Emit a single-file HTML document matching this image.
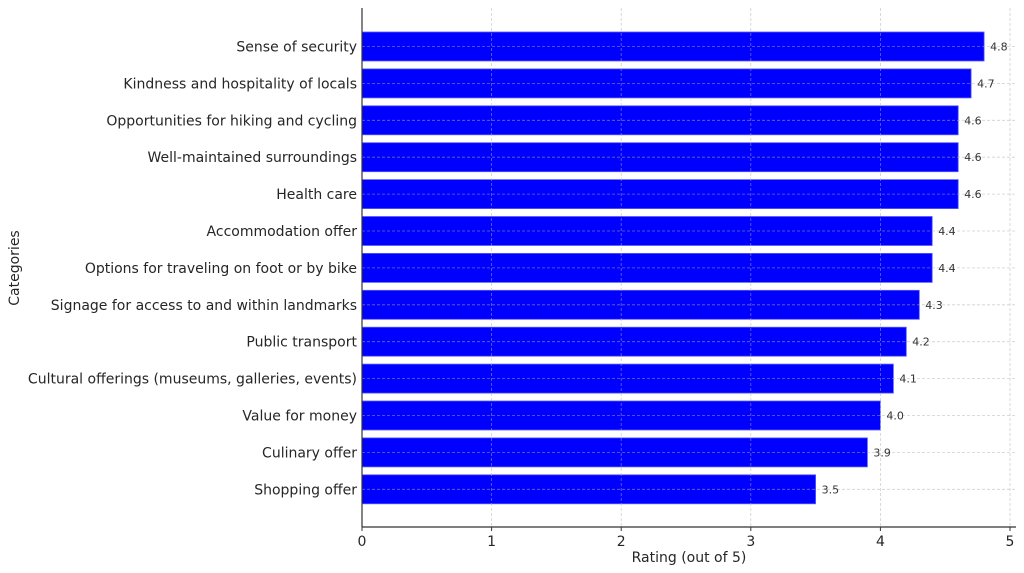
<!DOCTYPE html>
<html><head><style>body{margin:0;background:#fff}svg{display:block}</style></head><body>
<svg width="1024" height="573" xmlns="http://www.w3.org/2000/svg" font-family="DejaVu Sans, Liberation Sans, sans-serif">
<g fill="#0000ff" stroke="#5a5aff" stroke-width="0.8">
<rect x="362" y="32" width="622.1" height="29"/>
<rect x="362" y="68.9" width="609.1" height="29"/>
<rect x="362" y="105.8" width="596.2" height="29"/>
<rect x="362" y="142.7" width="596.2" height="29"/>
<rect x="362" y="179.6" width="596.2" height="29"/>
<rect x="362" y="216.5" width="570.2" height="29"/>
<rect x="362" y="253.4" width="570.2" height="29"/>
<rect x="362" y="290.3" width="557.3" height="29"/>
<rect x="362" y="327.2" width="544.3" height="29"/>
<rect x="362" y="364.1" width="531.4" height="29"/>
<rect x="362" y="401" width="518.4" height="29"/>
<rect x="362" y="437.9" width="505.4" height="29"/>
<rect x="362" y="474.8" width="453.6" height="29"/>
</g>
<g stroke="#b0b0b0" stroke-opacity="0.6" stroke-dasharray="3,2" stroke-width="0.8">
<line x1="362" x2="1016" y1="46.5" y2="46.5"/><line x1="362" x2="1016" y1="83.4" y2="83.4"/><line x1="362" x2="1016" y1="120.3" y2="120.3"/><line x1="362" x2="1016" y1="157.2" y2="157.2"/><line x1="362" x2="1016" y1="194.1" y2="194.1"/><line x1="362" x2="1016" y1="231" y2="231"/><line x1="362" x2="1016" y1="267.9" y2="267.9"/><line x1="362" x2="1016" y1="304.8" y2="304.8"/><line x1="362" x2="1016" y1="341.7" y2="341.7"/><line x1="362" x2="1016" y1="378.6" y2="378.6"/><line x1="362" x2="1016" y1="415.5" y2="415.5"/><line x1="362" x2="1016" y1="452.4" y2="452.4"/><line x1="362" x2="1016" y1="489.3" y2="489.3"/>
<line x1="491.6" x2="491.6" y1="8" y2="527"/><line x1="621.2" x2="621.2" y1="8" y2="527"/><line x1="750.8" x2="750.8" y1="8" y2="527"/><line x1="880.4" x2="880.4" y1="8" y2="527"/><line x1="1010" x2="1010" y1="8" y2="527"/>
</g>
<g font-size="11" fill="#333">
<text x="990.1" y="50.5">4.8</text><text x="977.1" y="87.4">4.7</text><text x="964.2" y="124.3">4.6</text><text x="964.2" y="161.2">4.6</text><text x="964.2" y="198.1">4.6</text><text x="938.2" y="235">4.4</text><text x="938.2" y="271.9">4.4</text><text x="925.3" y="308.8">4.3</text><text x="912.3" y="345.7">4.2</text><text x="899.4" y="382.6">4.1</text><text x="886.4" y="419.5">4.0</text><text x="873.4" y="456.4">3.9</text><text x="821.6" y="493.3">3.5</text>
</g>
<g font-size="14" fill="#262626" text-anchor="end">
<text x="357" y="51.5">Sense of security</text>
<text x="357" y="88.4">Kindness and hospitality of locals</text>
<text x="357" y="125.3">Opportunities for hiking and cycling</text>
<text x="357" y="162.2">Well-maintained surroundings</text>
<text x="357" y="199.1">Health care</text>
<text x="357" y="236">Accommodation offer</text>
<text x="357" y="272.9">Options for traveling on foot or by bike</text>
<text x="357" y="309.8">Signage for access to and within landmarks</text>
<text x="357" y="346.7">Public transport</text>
<text x="357" y="383.6">Cultural offerings (museums, galleries, events)</text>
<text x="357" y="420.5">Value for money</text>
<text x="357" y="457.4">Culinary offer</text>
<text x="357" y="494.3">Shopping offer</text>
</g>
<g stroke="#333">
<line x1="362" x2="362" y1="527" y2="531"/><line x1="491.6" x2="491.6" y1="527" y2="531"/><line x1="621.2" x2="621.2" y1="527" y2="531"/><line x1="750.8" x2="750.8" y1="527" y2="531"/><line x1="880.4" x2="880.4" y1="527" y2="531"/><line x1="1010" x2="1010" y1="527" y2="531"/>
<line x1="362" x2="362" y1="8" y2="527" stroke-width="1.2"/><line x1="362" x2="1016" y1="527" y2="527" stroke-width="1.2"/>
</g>
<g font-size="14" fill="#262626" text-anchor="middle">
<text x="362" y="546">0</text><text x="491.6" y="546">1</text><text x="621.2" y="546">2</text><text x="750.8" y="546">3</text><text x="880.4" y="546">4</text><text x="1010" y="546">5</text>
<text x="689" y="562">Rating (out of 5)</text>
<text transform="translate(19,268) rotate(-90)">Categories</text>
</g>
</svg>
</body></html>
